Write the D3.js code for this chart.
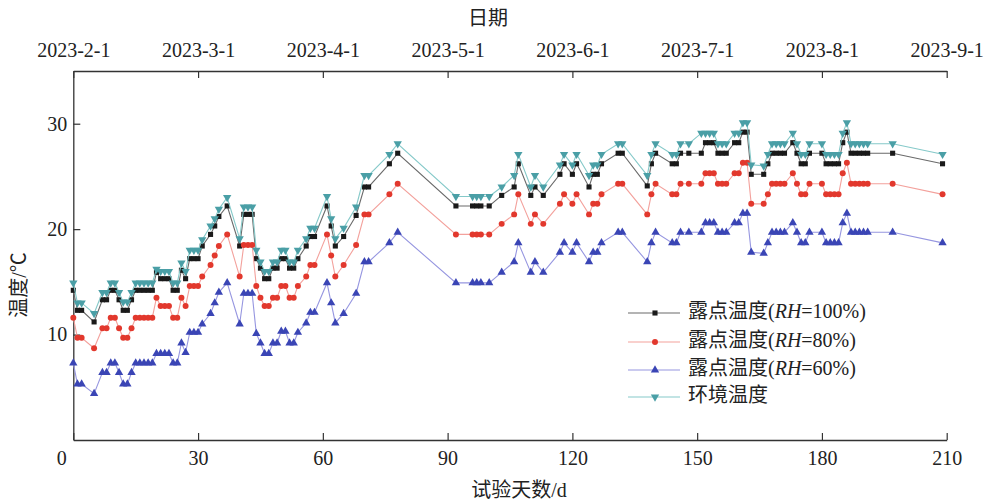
<!DOCTYPE html>
<html>
<head>
<meta charset="utf-8">
<script src="https://cdn.jsdelivr.net/npm/d3@7/dist/d3.min.js"></script>
<style>
  html, body { margin: 0; padding: 0; background: #fff; }
  svg { display: block; }
  text { font-family: "Liberation Serif", "Noto Sans CJK SC", serif; fill: #222; }
</style>
</head>
<body>
<svg id="chart" width="985" height="502"></svg>
<script>
// Test days (d)
const days = [0,1,2,5,7,8,9,10,11,12,13,14,15,16,17,18,19,20,21,22,23,24,25,26,27,28,29,30,31,33,34,35,37,40,41,42,43,44,45,46,47,48,49,50,51,52,53,54,56,57,58,61,62,63,65,68,70,71,76,78,92,96,97,98,100,103,106,107,110,111,113,117,118,120,121,124,125,126,127,131,132,138,139,140,144,145,146,148,151,152,153,154,155,156,157,159,160,161,162,163,166,167,168,169,170,171,173,174,175,176,177,180,181,182,183,184,185,186,187,188,189,190,191,197,209];

// Dew point, RH = 100 %
const dew100 = [14.2,12.3,12.3,11.2,13.3,13.3,14.2,14.2,13.3,12.3,12.3,13.3,14.2,14.2,14.2,14.2,14.2,15.9,15.3,15.3,15.3,14.2,14.2,16.1,15.3,17.2,17.2,17.2,18.4,19.5,20.3,21.2,22.2,18.4,21.4,21.4,21.4,17.2,16.3,15.3,15.3,16.3,16.3,17.2,17.2,16.3,16.3,17.2,18.4,19.3,19.3,22.2,20.3,18.4,19.3,21.3,24.0,24.0,26.2,27.2,22.2,22.2,22.2,22.2,22.2,23.2,24.0,26.2,23.2,24.0,23.2,25.2,26.2,25.2,26.2,24.0,25.2,25.2,26.2,27.2,27.2,24.1,26.2,27.2,26.2,26.2,27.2,27.2,27.2,28.2,28.2,28.2,27.2,27.2,27.2,28.2,28.2,29.2,29.2,25.2,25.2,26.2,27.2,27.2,27.2,27.2,28.2,27.2,26.2,26.2,27.2,27.2,26.2,26.2,26.2,26.2,28.2,29.2,27.2,27.2,27.2,27.2,27.2,27.2,26.2];

// Dew point, RH = 80 %
const dew80 = [11.6,9.7,9.7,8.7,10.6,10.6,11.6,11.6,10.6,9.7,9.7,10.6,11.6,11.6,11.6,11.6,11.6,13.5,12.7,12.7,12.7,11.6,11.6,13.5,12.7,14.6,14.6,14.6,15.5,16.6,17.5,18.4,19.5,15.5,18.5,18.5,18.5,14.6,13.5,12.7,12.7,13.5,13.5,14.6,14.6,13.5,13.5,14.6,15.5,16.6,16.6,19.5,17.5,15.5,16.6,18.5,21.4,21.4,23.3,24.3,19.5,19.5,19.5,19.5,19.5,20.5,21.4,23.3,20.5,21.4,20.5,22.4,23.3,22.4,23.3,21.4,22.4,22.4,23.3,24.3,24.3,21.4,23.3,24.3,23.3,23.3,24.3,24.3,24.3,25.3,25.3,25.3,24.3,24.3,24.3,25.3,25.3,26.3,26.3,22.4,22.4,23.3,24.3,24.3,24.3,24.3,25.3,24.3,23.3,23.3,24.3,24.3,23.3,23.3,23.3,23.3,25.3,26.3,24.3,24.3,24.3,24.3,24.3,24.3,23.3];

// Dew point, RH = 60 %
const dew60 = [7.3,5.3,5.3,4.4,6.4,6.4,7.3,7.3,6.4,5.3,5.3,6.4,7.3,7.3,7.3,7.3,7.3,8.2,8.2,8.2,8.2,7.3,7.3,9.2,8.3,10.2,10.2,10.2,11.0,12.0,13.0,14.0,14.9,11.0,13.9,13.9,13.9,10.1,9.2,8.2,8.2,9.2,9.2,10.3,10.3,9.2,9.2,10.2,11.1,12.1,12.1,14.9,13.0,11.1,12.0,13.9,16.9,16.9,18.7,19.7,14.9,14.9,14.9,14.9,14.9,15.9,16.9,18.7,15.9,16.9,15.9,17.8,18.7,17.8,18.7,16.9,17.8,17.8,18.7,19.7,19.7,16.9,18.7,19.7,18.7,18.7,19.7,19.7,19.7,20.6,20.6,20.6,19.7,19.7,19.7,20.6,20.6,21.5,21.5,17.8,17.7,18.7,19.7,19.7,19.7,19.7,20.6,19.7,18.7,18.7,19.7,19.7,18.7,18.7,18.7,18.7,20.6,21.5,19.7,19.7,19.7,19.7,19.7,19.7,18.7];

// Ambient temperature
const ambient = [14.9,13.0,13.0,12.0,14.0,14.0,14.9,14.9,14.0,13.1,13.1,14.0,14.9,14.9,14.9,14.9,14.9,16.2,16.0,16.0,16.0,14.9,14.9,16.8,16.0,18.0,18.0,18.0,19.0,20.3,21.0,21.9,23.0,19.1,22.1,22.1,22.1,18.0,16.9,16.0,16.0,16.9,16.9,18.0,18.0,16.9,16.9,18.0,19.1,20.1,20.1,23.1,21.0,19.1,20.1,22.1,25.1,25.1,27.1,28.1,23.1,23.1,23.1,23.1,23.1,24.0,25.1,27.1,24.0,25.1,24.0,26.1,27.1,26.1,27.1,25.1,26.1,26.1,27.1,28.1,28.1,25.1,27.1,28.1,27.1,27.1,28.1,28.1,29.1,29.1,29.1,29.1,28.1,28.1,28.1,29.1,29.1,30.1,30.1,26.1,26.0,27.1,28.1,28.1,28.1,28.1,29.1,28.1,27.1,27.1,28.1,28.1,27.1,27.1,27.1,27.1,29.1,30.1,28.1,28.1,28.1,28.1,28.1,28.1,27.1];

// Calendar labels of the top axis
const dateLabels = ["2023-2-1","2023-3-1","2023-4-1","2023-5-1","2023-6-1","2023-7-1","2023-8-1","2023-9-1"];
const dayTicks = [0,30,60,90,120,150,180,210];
const tempTicks = [10,20,30];

const series = [
  { name: "露点温度(", rh: "RH", tail: "=100%)", values: dew100, line: "#6a6a6a", mark: "#1a1a1a", symbol: d3.symbolSquare, size: 26, rot: 0 },
  { name: "露点温度(", rh: "RH", tail: "=80%)",  values: dew80,  line: "#f3a19c", mark: "#e2382d", symbol: d3.symbolCircle, size: 28, rot: 0 },
  { name: "露点温度(", rh: "RH", tail: "=60%)",  values: dew60,  line: "#9696e0", mark: "#3a45b5", symbol: d3.symbolTriangle, size: 30, rot: 0 },
  { name: "环境温度", rh: "", tail: "", values: ambient, line: "#85c9c9", mark: "#4a9fa6", symbol: d3.symbolTriangle, size: 30, rot: 180 }
];

const W = 985, H = 502;
const m = { left: 73.3, right: 38.3, top: 71, bottom: 62 };
const w = W - m.left - m.right, h = H - m.top - m.bottom;

const svg = d3.select("#chart");
const g = svg.append("g").attr("transform", `translate(${m.left},${m.top})`);

const x = d3.scaleLinear().domain([0, 210]).range([0, w]);
const y = d3.scaleLinear().domain([0, 35]).range([h, 0]);
const xTop = d3.scalePoint().domain(dateLabels).range([0, w]);

// Axes
const axisColor = "#333";
const gx = g.append("g").attr("transform", `translate(0,${h})`)
  .call(d3.axisBottom(x).tickValues(dayTicks).tickSize(-7).tickSizeOuter(0).tickPadding(11));
gx.selectAll("text").filter(d => d === 0).attr("x", -12);

const gt = g.append("g")
  .call(d3.axisTop(xTop).tickSize(-7).tickSizeOuter(0).tickPadding(14));

const gy = g.append("g")
  .call(d3.axisLeft(y).tickValues(tempTicks).tickSize(-7).tickSizeOuter(0).tickPadding(6));

[gx, gt, gy].forEach(a => {
  a.selectAll("path.domain").attr("stroke", axisColor).attr("stroke-width", 1.3);
  a.selectAll(".tick line").attr("stroke", axisColor).attr("stroke-width", 1.2);
  a.selectAll("text").attr("fill", "#222").style("font-size", "20px")
    .style("font-family", "'Liberation Serif', serif");
});

// Series lines and markers
const lineGen = d3.line().x((d, i) => x(days[i])).y(d => y(d));
series.forEach(s => {
  g.append("path").datum(s.values)
    .attr("fill", "none").attr("stroke", s.line).attr("stroke-width", 1.1)
    .attr("d", lineGen);
  g.append("g").selectAll("path").data(s.values).join("path")
    .attr("d", d3.symbol().type(s.symbol).size(s.size))
    .attr("transform", (d, i) => `translate(${x(days[i])},${y(d)}) rotate(${s.rot})`)
    .attr("fill", s.mark);
});

// Axis titles
svg.append("text").attr("x", 488).attr("y", 20).attr("text-anchor", "middle")
  .attr("dominant-baseline", "middle").style("font-size", "20px").text("日期");
svg.append("text").attr("x", 519).attr("y", 492).attr("text-anchor", "middle")
  .attr("dominant-baseline", "middle").style("font-size", "20px").text("试验天数/d");
svg.append("text").attr("transform", "translate(21,285) rotate(-90)").attr("text-anchor", "middle")
  .attr("dominant-baseline", "middle").style("font-size", "20px").text("温度/℃");

// Legend
const legY = [313, 342, 370, 397];
const leg = svg.append("g");
series.forEach((s, i) => {
  const r = leg.append("g").attr("transform", `translate(0,${legY[i]})`);
  r.append("line").attr("x1", 628).attr("x2", 680).attr("stroke", s.line).attr("stroke-width", 1.1);
  r.append("path").attr("d", d3.symbol().type(s.symbol).size(s.size))
    .attr("transform", `translate(655,0) rotate(${s.rot})`).attr("fill", s.mark);
  const t = r.append("text").attr("x", 688).attr("dominant-baseline", "middle").style("font-size", "20px");
  t.append("tspan").text(s.name);
  if (s.rh) {
    t.append("tspan").style("font-style", "italic").text(s.rh);
    t.append("tspan").text(s.tail);
  }
});
</script>
</body>
</html>
